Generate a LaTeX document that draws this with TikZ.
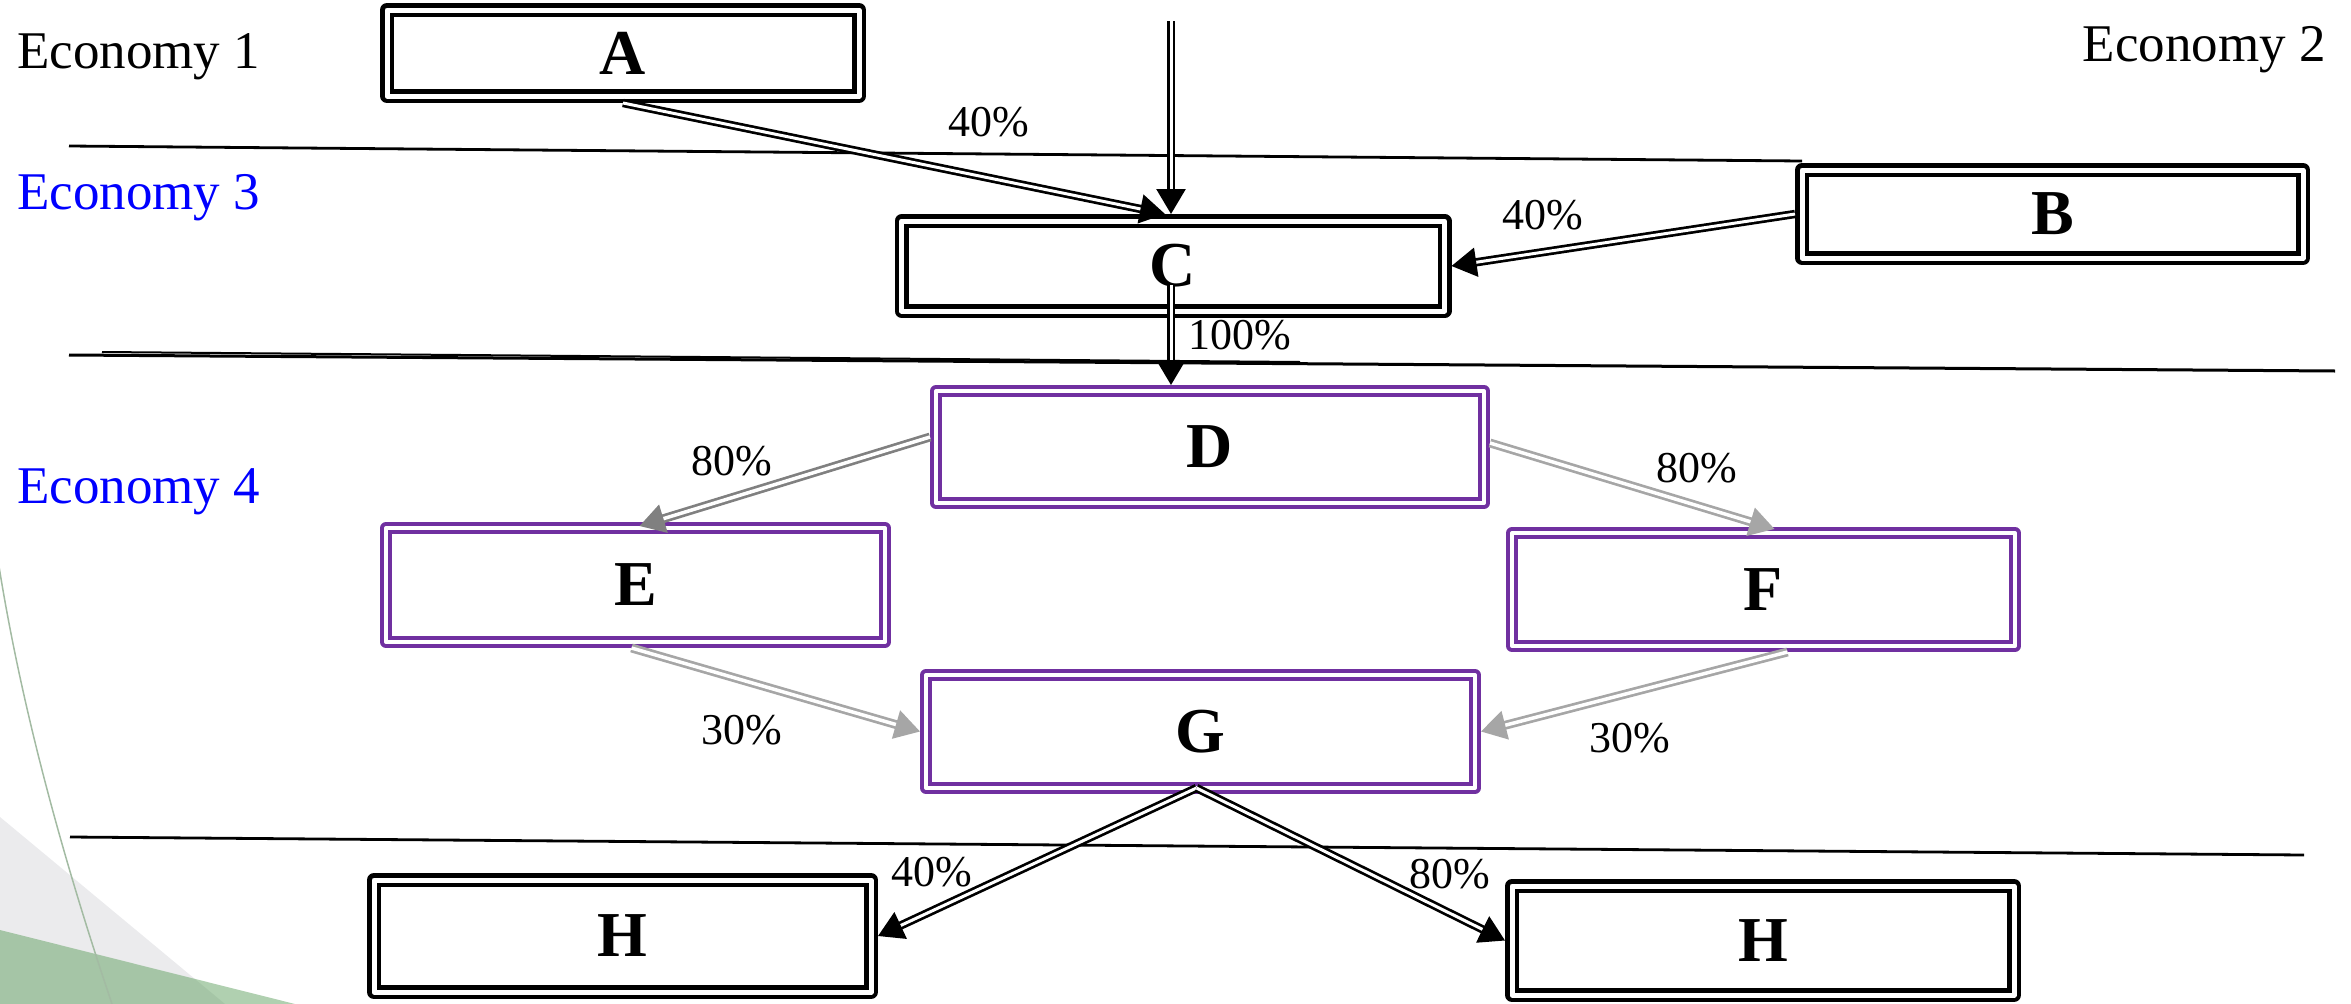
\documentclass[tikz,border=0pt]{standalone}
\usepackage{fontspec}
\setmainfont{Liberation Serif}
\usetikzlibrary{arrows.meta,calc}
\definecolor{purp}{HTML}{7030A0}
\definecolor{econblue}{HTML}{0000FF}
\definecolor{gdark}{HTML}{808080}
\definecolor{glight}{HTML}{A6A6A6}
\definecolor{bggray}{HTML}{EBEBED}
\definecolor{bggreen}{RGB}{97,161,97}
\definecolor{curvecol}{HTML}{A3BBA3}
\begin{document}
\begin{tikzpicture}[x=1pt,y=-1pt,
  boxblk/.style={draw=black, double=white, line width=4.5pt, double distance=5pt,
    line join=round, inner sep=0pt, outer sep=7pt, fill=white,
    font=\fontsize{64}{70}\selectfont\bfseries},
  boxpur/.style={boxblk, draw=purp, line width=4pt, double distance=4pt, outer sep=6pt},
  econ/.style={font=\fontsize{53}{60}\selectfont, inner sep=0pt},
  pct/.style={font=\fontsize{44}{50}\selectfont, inner sep=0pt},
  sepline/.style={draw=black, line width=2.8pt},
  blkarrow/.style={draw=black, double=white, line width=2.7pt, double distance=3pt,
    -{Triangle[length=25pt,width=29pt]}},
  gdarkarrow/.style={blkarrow, draw=gdark, double distance=3.5pt},
  glightarrow/.style={blkarrow, draw=glight, double distance=3.5pt}
]
\useasboundingbox (0,0) rectangle (2351,1004);
% background decoration
\fill[bggray] (0,817) -- (225,1004) -- (0,1004) -- cycle;
\fill[bggreen, fill opacity=0.5] (0,930) -- (295,1004) -- (0,1004) -- cycle;
\draw[curvecol, line width=1.5pt] (-2,560) .. controls (20,700) and (60,850) .. (112,1004);
% separator lines
\draw[sepline] (69,146) -- (1802,161);
\draw[sepline, line width=3pt] (69,355) -- (2335,371);
\draw[sepline, line width=2pt] (102,352) -- (1300,362);
\draw[sepline] (70,837) -- (2304,855);
% economy labels
\node[econ, anchor=base west] (e1) at (17,68) {Economy 1};
\node[econ, anchor=base east] (e2) at (2326,61) {Economy 2};
\node[econ, anchor=base west, text=econblue] (e3) at (17,209) {Economy 3};
\node[econ, anchor=base west, text=econblue] (e4) at (17,503) {Economy 4};
% boxes
\node[boxblk, minimum width=472pt, minimum height=86pt] (A) at (623,53) {A};
\node[boxblk, minimum width=501pt, minimum height=88pt] (B) at (2052.5,214) {B};
\node[boxblk, minimum width=543pt, minimum height=90pt] (C) at (1173,266) {C};
\node[boxpur, minimum width=548pt, minimum height=112pt] (D) at (1210,447) {D};
\node[boxpur, minimum width=499pt, minimum height=114pt] (E) at (635.5,585) {E};
\node[boxpur, minimum width=503pt, minimum height=113pt] (F) at (1763.5,589.5) {F};
\node[boxpur, minimum width=549pt, minimum height=113pt] (G) at (1200.5,731.5) {G};
\node[boxblk, minimum width=497pt, minimum height=112pt] (H1) at (622.5,936) {H};
\node[boxblk, minimum width=502pt, minimum height=109pt] (H2) at (1763,940.5) {H};
% arrows
\coordinate (top) at (1171,21);
\draw[blkarrow] (top) -- (top |- C.north);
\draw[blkarrow] (A.south) -- ($(C.north)+(-8,0)$);
\draw[blkarrow] (B.west) -- (C.east);
\coordinate (cd) at ($(C.center)+(-2,19)$);
\draw[blkarrow] (cd) -- (cd |- D.north);
\draw[gdarkarrow] ($(D.west)+(0,-10)$) -- ($(E.north)+(4,4)$);
\draw[glightarrow] ($(D.east)+(0,-4)$) -- ($(F.north)+(11,2)$);
\draw[glightarrow] ($(E.south)+(-4,0)$) -- (G.west);
\draw[glightarrow] ($(F.south)+(24,0)$) -- (G.east);
\coordinate (gs) at ($(G.south)+(-4,-6)$);
\draw[blkarrow] (gs) -- (H1.east);
\draw[blkarrow] (gs) -- (H2.west);
% percentage labels
\node[pct] (p1) at (989,122) {40\%};
\node[pct] (p2) at (1543,215) {40\%};
\node[pct] (p3) at (1240,335) {100\%};
\node[pct] (p4) at (732,461) {80\%};
\node[pct] (p5) at (1697,468) {80\%};
\node[pct] (p6) at (742,730) {30\%};
\node[pct] (p7) at (1630,738) {30\%};
\node[pct] (p8) at (932,872) {40\%};
\node[pct] (p9) at (1450,874) {80\%};
\end{tikzpicture}
\end{document}
